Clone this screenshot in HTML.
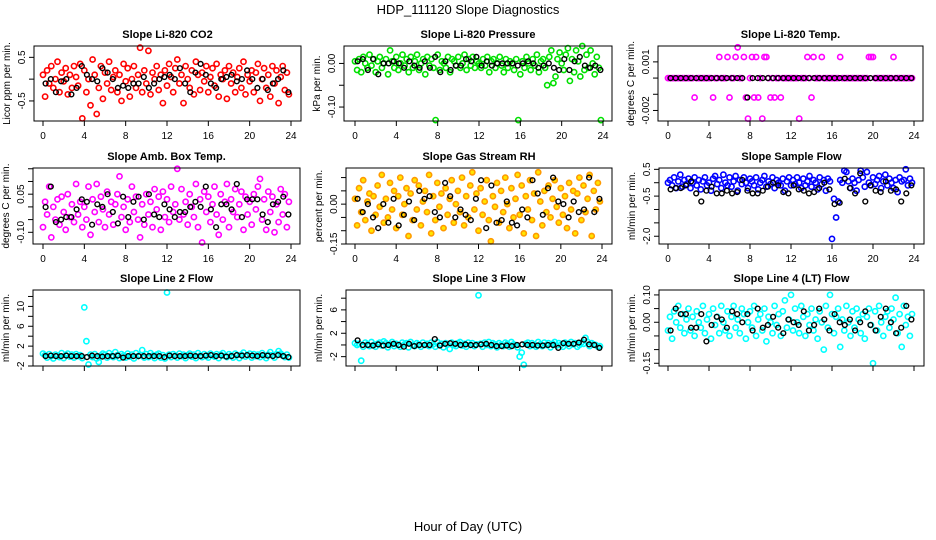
<!DOCTYPE html>
<html><head><meta charset="utf-8">
<style>
html,body{margin:0;padding:0;background:#fff;}
svg{display:block;font-family:"Liberation Sans",Arial,sans-serif;}
</style></head>
<body>
<svg id="chart" width="936" height="540" viewBox="0 0 936 540" xmlns="http://www.w3.org/2000/svg">
<rect width="936" height="540" fill="#fff"/>
<text x="468" y="14" font-size="13" text-anchor="middle">HDP_111120  Slope Diagnostics</text>
<text x="468" y="531" font-size="13" text-anchor="middle">Hour of Day (UTC)</text>
</svg>
<script>
const xTicks = [0,4,8,12,16,20,24];
const colorHours = Array.from({length:120},(_,i)=>i*0.2);
const blackHours = Array.from({length:48},(_,i)=>0.25+i*0.5);

const co2Color = [0.1,-0.4,0.2,-0.1,0.3,-0.2,0.0,0.4,-0.3,0.15,-0.05,0.25,-0.35,0.1,-0.2,0.3,0.05,-0.15,0.35,-0.9,0.2,-0.3,0.0,-0.6,0.45,0.1,-0.8,-0.2,0.3,-0.45,0.15,-0.1,0.4,-0.25,0.05,0.2,-0.3,0.1,-0.5,0.35,-0.05,0.25,-0.4,0.0,0.3,-0.2,0.1,0.72,-0.3,0.2,-0.1,0.65,-0.35,0.15,0.0,0.3,-0.25,0.1,-0.55,0.2,-0.15,0.35,0.05,-0.3,0.25,0.45,-0.1,0.1,-0.55,0.3,0.0,-0.2,0.2,-0.35,0.4,0.1,-0.25,0.15,-0.05,0.3,-0.3,0.05,0.25,-0.15,0.35,-0.4,0.1,0.0,0.2,-0.45,0.3,-0.1,0.15,-0.3,0.05,0.25,-0.2,0.4,-0.35,0.1,-0.05,0.2,-0.3,0.15,0.35,-0.5,0.0,0.25,-0.2,0.1,-0.4,0.3,-0.1,0.2,-0.55,0.05,0.3,-0.25,0.15,-0.35];
const co2Black = [-0.1,0.0,-0.3,-0.05,0.0,-0.35,-0.2,0.3,0.1,0.0,-0.05,0.25,0.15,0.0,-0.2,-0.15,-0.2,-0.1,-0.1,0.05,-0.2,-0.1,0.0,0.05,0.1,0.0,0.25,-0.1,-0.3,0.15,0.35,0.1,-0.1,-0.2,0.0,0.05,0.1,-0.05,0.0,0.2,0.0,-0.2,0.0,-0.25,-0.1,0.0,0.2,-0.3];

const presColor = [0.005,-0.015,0.01,-0.02,0.015,0.0,-0.01,0.02,-0.005,0.01,-0.02,0.005,0.015,-0.01,0.0,0.01,-0.025,0.03,0.005,-0.01,0.015,-0.015,0.0,0.02,-0.005,0.01,-0.02,0.015,-0.01,0.005,0.02,-0.015,0.0,0.01,-0.025,0.015,-0.005,0.01,-0.01,-0.13,0.02,-0.015,0.005,0.0,-0.01,0.015,-0.02,0.01,0.005,-0.005,0.015,-0.01,0.0,0.02,-0.015,0.01,-0.005,0.015,-0.01,0.005,0.0,-0.01,0.01,-0.005,0.015,-0.02,0.005,0.01,-0.01,0.0,0.015,-0.005,-0.02,0.01,-0.01,0.005,0.0,-0.015,0.01,-0.13,-0.025,0.005,-0.01,0.015,0.0,-0.015,0.01,-0.005,0.02,-0.02,0.005,0.01,-0.01,-0.05,0.015,0.03,-0.045,-0.03,0.01,0.025,0.0,-0.015,0.02,0.035,-0.04,0.01,-0.02,0.03,0.005,-0.03,0.04,-0.015,0.02,-0.01,0.03,0.0,-0.025,0.015,-0.01,-0.13];
const presBlack = [0.005,0.01,-0.015,0.01,-0.025,0.0,0.0,0.005,0.0,-0.01,0.005,-0.005,-0.01,0.005,-0.01,0.015,-0.02,0.005,-0.015,-0.005,-0.005,0.01,0.005,0.015,-0.005,0.005,-0.005,0.0,0.0,0.0,0.0,-0.005,0.0,0.005,0.0,-0.01,-0.005,0.0,-0.01,-0.015,0.01,-0.015,0.005,0.015,-0.005,-0.01,-0.005,-0.015];

const tempColor = [0,0,0,0,0,0,0,0,0,0, 0,0,0,-0.0012,0,0,0,0,0,0, 0,0,-0.0012,0,0,0.0013,0,0,0,0.0013, -0.0012,0,0,0.0013,0.0019,0,0,0.0013,-0.0012,-0.0025, 0,0.0013,-0.0012,0.0013,-0.0012,0,-0.0025,0.0013,0.0013,0, -0.0012,0,-0.0012,0,0,-0.0012,0,0,0,0, 0,0,0,0,-0.0025,0,0,0,0.0013,0, -0.0012,0.0013,0,0,0,0.0013,0,0,0,0, 0,0,0,0,0.0013,0,0,0,0,0, 0,0,0,0,0,0,0,0,0.0013,0.0013, 0.0013,0,0,0,0,0,0,0,0,0, 0.0013,0,0,0,0,0,0,0,0,0];
const tempBlack = [0,0,0,0,0,0,0,0,0,0,0,0,0,0,0,-0.0012,0,0,0,0,0,0,0,0,0,0,0,0,0,0,0,0,0,0,0,0,0,0,0,0,0,0,0,0,0,0,0,0];

const ambColor = [-0.08,0.02,-0.03,0.08,-0.12,0.0,-0.05,0.03,-0.07,0.04,-0.02,-0.09,0.05,-0.04,0.01,-0.06,0.09,-0.03,0.02,-0.08,0.0,-0.05,0.08,-0.11,0.03,-0.02,0.09,-0.06,0.04,-0.01,-0.08,0.06,-0.03,0.02,-0.07,0.01,0.05,0.12,-0.04,0.0,-0.09,0.03,-0.06,0.08,-0.02,0.04,-0.05,-0.12,0.01,-0.07,0.05,-0.03,0.02,-0.08,0.07,-0.01,0.04,-0.09,0.06,-0.04,0.03,-0.06,0.08,-0.02,0.01,0.15,-0.05,0.07,-0.03,0.02,-0.07,0.05,0.0,-0.04,0.09,-0.08,0.03,-0.14,0.06,-0.02,0.04,-0.06,0.01,0.08,-0.03,-0.11,0.05,-0.05,0.02,0.09,-0.08,0.03,-0.02,0.07,-0.04,0.01,0.06,-0.09,0.04,-0.03,0.02,-0.07,0.05,-0.01,0.08,0.11,-0.05,0.03,-0.09,0.06,-0.02,0.04,-0.1,0.01,-0.06,0.07,-0.03,0.05,-0.08,0.02];
const ambBlack = [-0.001,0.08,-0.06,-0.05,-0.04,-0.04,-0.01,0.03,0.02,-0.07,0.01,0.0,0.05,-0.02,-0.065,0.04,-0.04,0.02,0.04,-0.05,0.05,-0.03,-0.04,0.01,-0.01,-0.04,-0.02,-0.02,0.0,0.02,0.0,0.08,-0.01,-0.08,0.01,0.01,-0.01,0.09,-0.04,0.03,0.03,0.03,-0.03,-0.06,0.01,0.02,0.04,-0.03];

const rhColor = [0.02,-0.08,0.06,-0.03,0.09,-0.06,0.01,0.04,-0.1,0.03,-0.04,0.07,-0.01,0.11,-0.07,0.02,-0.05,0.08,-0.02,0.05,-0.09,0.03,0.1,-0.04,0.0,0.06,-0.12,0.04,-0.06,0.09,-0.02,0.07,-0.08,0.01,0.05,-0.03,0.11,-0.11,0.03,-0.06,0.08,-0.01,0.04,-0.09,0.06,-0.04,0.02,0.09,-0.07,0.0,0.05,-0.03,0.1,-0.08,0.03,-0.05,0.07,0.12,-0.02,0.04,-0.1,0.06,-0.04,0.01,0.09,-0.06,-0.14,0.03,-0.01,0.08,-0.07,0.05,-0.03,0.1,0.0,-0.09,0.06,-0.05,0.02,0.11,-0.04,0.07,-0.11,0.03,-0.02,0.09,-0.06,0.04,-0.12,0.12,0.01,-0.08,0.05,-0.03,0.07,-0.05,0.02,0.09,-0.01,-0.07,0.06,-0.04,0.03,-0.09,0.08,-0.02,0.05,-0.11,0.04,0.1,-0.06,0.07,-0.03,0.02,0.11,-0.12,0.05,-0.02,0.08,0.01];
const rhBlack = [0.02,-0.03,0.0,-0.05,-0.09,0.0,-0.07,0.02,-0.08,-0.04,0.01,-0.06,0.05,0.02,0.03,-0.03,-0.05,0.08,0.03,-0.05,-0.02,-0.04,-0.06,0.02,0.09,-0.09,0.07,-0.07,-0.06,0.01,-0.07,-0.08,-0.02,-0.05,0.09,0.04,-0.04,0.06,0.1,0.01,0.0,-0.05,0.01,-0.03,-0.02,0.1,-0.03,0.02];

const flowColor = [0.0,0.1,-0.1,0.2,-0.2,0.05,0.3,-0.15,0.1,-0.05,0.15,-0.2,0.0,0.2,-0.1,0.1,-0.25,0.05,0.2,-0.1,0.0,-0.3,0.15,0.25,-0.05,0.1,-0.2,0.3,0.0,-0.1,0.2,-0.15,0.05,0.25,-0.3,0.1,-0.05,0.2,0.0,-0.2,0.15,0.05,-0.1,0.2,-0.25,0.0,0.1,0.25,-0.15,0.05,-0.05,0.2,-0.2,0.1,0.0,-0.1,0.15,-0.3,0.05,0.2,-0.1,0.1,-0.05,0.2,0.0,-0.2,0.15,-0.1,0.05,0.25,-0.15,0.1,0.0,-0.25,0.2,-0.05,0.1,-0.3,0.15,0.05,-2.1,-0.6,-1.3,-0.7,0.1,0.0,0.45,0.4,0.05,-0.2,0.15,0.0,-0.3,0.1,0.45,0.2,-0.15,0.4,0.0,-0.1,0.2,-0.05,0.1,0.25,-0.2,0.05,0.3,-0.1,0.15,0.0,-0.2,0.1,-0.35,0.2,0.05,0.1,0.5,-0.1,0.15,0.0];
const flowBlack = [-0.25,-0.2,-0.2,-0.1,0.05,-0.4,-0.7,-0.3,-0.15,-0.4,-0.4,-0.3,-0.4,-0.35,0.1,-0.3,-0.4,-0.4,-0.3,-0.15,0.0,-0.1,-0.35,-0.4,-0.1,-0.25,-0.3,-0.4,-0.35,-0.2,0.0,-0.25,-0.8,-0.75,0.15,-0.2,-0.4,0.35,-0.7,-0.1,-0.3,-0.35,0.05,-0.3,-0.25,-0.7,-0.4,-0.1];

const line2Color = [0.5,0.2,-0.3,0.4,0.0,-0.5,0.3,0.1,-0.2,0.6,-0.4,0.2,0.5,-0.1,0.3,-0.3,0.4,0.0,0.2,-0.4,9.8,3.0,-1.7,0.3,-0.2,0.4,-0.5,-1.2,0.1,0.5,0.3,-0.3,0.6,0.0,-0.2,0.8,0.2,-0.4,0.4,0.1,-0.3,0.5,-0.1,0.3,-0.5,0.6,0.0,0.2,1.2,-0.3,0.4,-0.2,0.6,0.1,-0.4,0.3,0.5,-0.3,0.2,-0.5,12.8,0.3,-0.2,0.4,0.1,-0.3,0.5,0.0,0.3,-0.4,0.2,0.5,-0.1,0.3,-0.4,0.6,0.1,-0.2,0.4,0.0,-0.3,0.5,0.2,-0.1,0.4,-0.4,0.3,0.6,0.0,-0.2,0.4,0.1,-0.3,0.5,0.2,-0.4,0.3,0.7,-0.1,0.2,0.5,-0.3,0.4,0.0,0.3,-0.2,0.6,0.1,-0.4,0.3,0.8,0.2,-0.3,0.4,1.0,0.5,0.1,-0.2,0.3,-0.3];
const line2Black = [0,0.1,0,0,0.1,0,0,0,-0.2,0.1,0,-0.1,0,0,0.1,-0.3,0,0,0,0,0,0,0,-0.2,0.1,0,0,0,0.1,0,0,0.1,0.2,0,0.1,-0.1,0,0.2,0.1,0.2,0.1,0,0.2,0.1,0,0.2,0,-0.2];

const line3Color = [0.3,0.0,0.2,-2.7,-0.3,0.4,0.1,-0.2,0.5,0.0,-0.3,0.2,0.4,-0.1,0.6,0.3,-0.4,0.1,0.5,-0.2,0.2,0.0,-0.3,0.4,0.1,0.3,-0.4,0.5,0.0,-0.2,0.3,0.1,-0.3,0.4,0.0,0.2,-0.2,0.4,0.1,-0.3,0.5,0.0,0.2,-0.4,0.3,0.1,-0.7,0.4,0.0,-0.2,0.3,0.5,-0.1,0.2,-0.3,0.4,0.0,0.3,-0.2,0.1,8.5,0.2,-0.3,0.4,0.0,0.5,-0.2,0.3,0.1,-0.4,0.3,0.0,-0.2,0.4,0.2,-0.3,0.5,0.1,0.0,-0.4,-2.0,-1.3,-3.4,0.2,0.4,-0.2,0.3,0.0,-0.3,0.5,0.1,-0.2,0.4,0.0,0.3,-0.4,0.2,0.5,-0.1,0.3,0.0,-0.3,0.4,0.2,-0.2,0.5,0.1,0.3,-0.3,0.0,0.4,0.2,1.2,0.5,-0.2,0.3,0.1,0.0,-0.3,-0.2];
const line3Black = [0.8,0.0,0.0,-0.1,0.1,-0.1,0.0,0.2,0.0,-0.3,0.2,-0.2,0.0,0.0,0.0,1.0,-0.1,0.2,0.3,0.2,0.0,0.1,0.0,0.0,0.1,0.2,0.0,-0.2,-0.2,-0.1,-0.2,0.0,0.1,0.0,0.0,-0.1,-0.1,0.0,0.0,-0.5,0.3,0.2,0.2,0.4,0.9,0.1,0.0,-0.5];

const line4Color = [-0.03,0.02,-0.06,0.04,0.0,0.06,-0.02,0.03,-0.04,0.01,0.05,-0.03,0.02,-0.05,0.04,0.0,-0.02,0.06,-0.04,0.01,0.03,-0.06,0.05,-0.01,0.02,-0.04,0.06,0.0,-0.03,0.04,-0.05,0.02,0.06,-0.02,0.01,-0.04,0.05,0.03,-0.06,0.0,0.04,-0.02,0.06,-0.05,0.01,0.03,-0.03,0.05,-0.07,0.02,0.0,-0.04,0.06,-0.01,0.03,-0.05,0.04,0.08,-0.02,0.01,0.1,-0.03,0.05,0.0,-0.04,0.06,0.02,-0.05,0.03,-0.01,0.05,-0.03,0.01,-0.06,0.04,0.0,-0.1,0.06,-0.02,0.1,0.03,-0.04,0.02,0.05,-0.09,0.01,-0.03,0.06,0.0,-0.05,0.04,-0.02,0.05,0.01,-0.04,0.03,-0.06,0.02,0.05,-0.01,-0.15,0.04,-0.03,0.06,0.0,-0.05,0.02,0.04,-0.02,0.05,0.01,0.09,-0.04,0.03,-0.09,0.06,-0.01,0.02,-0.05,0.03];
const line4Black = [-0.03,0.05,0.03,0.03,-0.02,-0.02,0.03,-0.07,-0.01,0.02,0.01,-0.02,0.04,0.03,0.0,0.03,-0.03,0.05,-0.02,-0.01,0.02,-0.02,-0.04,0.01,0.0,-0.01,0.04,-0.03,-0.01,0.05,0.01,-0.03,0.03,0.0,-0.01,0.01,-0.03,0.0,0.04,-0.01,-0.03,0.02,0.05,0.0,-0.04,-0.02,0.06,0.01];

const yTicks1=[-0.5,0,0.5], yLab1=["-0.5","","0.5"];
const yTicks2=[-0.1,-0.05,0], yLab2=["-0.10","","0.00"];
const yTicks3=[-0.002,-0.001,0,0.001], yLab3=["-0.002","","","0.001"];
const yTicks4=[-0.1,-0.05,0,0.05,0.1,0.15], yLab4=["-0.10","","","0.05","",""];
const yTicks5=[-0.15,-0.1,-0.05,0,0.05,0.1], yLab5=["-0.15","","","0.00","",""];
const yTicks6=[-2,-1.5,-1,-0.5,0,0.5], yLab6=["-2.0","","","-0.5","","0.5"];
const yTicks7=[-2,0,2,4,6,8,10,12], yLab7=["-2","","2","","6","","10",""];
const yTicks8=[-2,0,2,4,6,8], yLab8=["-2","","2","","6",""];
const yTicks9=[-0.15,-0.1,-0.05,0,0.05,0.1], yLab9=["-0.15","","","0.00","","0.10"];

const panels = [
 {name:"co2",title:"Slope Li-820 CO2",ylab:"Licor ppm per min.",L:34,R:301,T:46,B:121,x0:43,x24:291,ymin:-0.96,ymax:0.76,c:colorHours,cv:co2Color,bv:co2Black,col:"#ff0000",fill:"none",yt:yTicks1,yl:yLab1,xl:true},
 {name:"pressure",title:"Slope Li-820 Pressure",ylab:"kPa per min.",L:344,R:612,T:46,B:121,x0:355,x24:603,ymin:-0.132,ymax:0.04,c:colorHours,cv:presColor,bv:presBlack,col:"#00e000",fill:"none",yt:yTicks2,yl:yLab2,xl:true},
 {name:"li820-temp",title:"Slope Li-820 Temp.",ylab:"degrees C per min.",L:658,R:923,T:46,B:121,x0:668,x24:914,ymin:-0.00265,ymax:0.00198,c:colorHours,cv:tempColor,bv:tempBlack,col:"#ff00ff",fill:"none",yt:yTicks3,yl:yLab3,xl:true},
 {name:"amb-box-temp",title:"Slope Amb. Box Temp.",ylab:"degrees C per min.",L:33,R:300,T:168,B:244,x0:43,x24:291,ymin:-0.146,ymax:0.153,c:colorHours,cv:ambColor,bv:ambBlack,col:"#ff00ff",fill:"none",yt:yTicks4,yl:yLab4,xl:true},
 {name:"gas-stream-rh",title:"Slope Gas Stream RH",ylab:"percent per min.",L:346,R:612,T:168,B:244,x0:355,x24:602,ymin:-0.15,ymax:0.136,c:colorHours,cv:rhColor,bv:rhBlack,col:"#ff9a00",fill:"#ffe600",yt:yTicks5,yl:yLab5,xl:true},
 {name:"sample-flow",title:"Slope Sample Flow",ylab:"ml/min per min.",L:659,R:924,T:168,B:244,x0:668,x24:914,ymin:-2.29,ymax:0.55,c:colorHours,cv:flowColor,bv:flowBlack,col:"#0000ff",fill:"none",yt:yTicks6,yl:yLab6,xl:true},
 {name:"line2-flow",title:"Slope Line 2 Flow",ylab:"ml/min per min.",L:33,R:300,T:290,B:366,x0:43,x24:291,ymin:-2,ymax:13.3,c:colorHours,cv:line2Color,bv:line2Black,col:"#00ffff",fill:"none",yt:yTicks7,yl:yLab7,xl:false},
 {name:"line3-flow",title:"Slope Line 3 Flow",ylab:"ml/min per min.",L:346,R:612,T:290,B:366,x0:355,x24:602,ymin:-3.6,ymax:9.4,c:colorHours,cv:line3Color,bv:line3Black,col:"#00ffff",fill:"none",yt:yTicks8,yl:yLab8,xl:false},
 {name:"line4-flow",title:"Slope Line 4 (LT) Flow",ylab:"ml/min per min.",L:659,R:924,T:290,B:366,x0:668,x24:914,ymin:-0.16,ymax:0.118,c:colorHours,cv:line4Color,bv:line4Black,col:"#00ffff",fill:"none",yt:yTicks9,yl:yLab9,xl:false}
];

const svg = document.getElementById('chart');
const NS = "http://www.w3.org/2000/svg";
function mk(tag, attrs, parent){
  const e = document.createElementNS(NS, tag);
  for (const k in attrs) e.setAttribute(k, attrs[k]);
  (parent||svg).appendChild(e);
  return e;
}
panels.forEach(p=>{
  const g = mk('g',{});
  
  
  const xs = h => p.x0 + (p.x24 - p.x0) * h / 24;
  const ys = v => p.B - (v - p.ymin) / (p.ymax - p.ymin) * (p.B - p.T);
  const t = mk('text',{x:(p.L+p.R)/2,y:p.T-8,'font-size':11,'font-weight':'bold','text-anchor':'middle'},g);
  t.textContent = p.title;
  
  
  const yl = mk('text',{x:0,y:0,'font-size':10,'text-anchor':'middle',transform:`translate(${p.L-24},${(p.T+p.B)/2}) rotate(-90)`},g);
  yl.textContent = p.ylab;
  
  
  const pg = mk('g',{fill:p.fill,'stroke-width':1.6},g);
  
  
  p.cv.forEach((v,i)=>{
    const c = mk('circle',{cx:xs(p.c[i]).toFixed(1),cy:ys(v).toFixed(1),r:2.6,stroke:p.col},pg);
    
    
  });
  const bg = mk('g',{fill:'none','stroke-width':1.4,stroke:'#000'},g);
  
  
  p.bv.forEach((v,i)=>{
    const c = mk('circle',{cx:xs(blackHours[i]).toFixed(1),cy:ys(v).toFixed(1),r:2.4},bg);
    
    
  });
  const box = mk('rect',{x:p.L,y:p.T,width:p.R-p.L,height:p.B-p.T,fill:'none',stroke:'#000','stroke-width':1},g);
  
  
  xTicks.forEach(h=>{
    const x = xs(h);
    mk('line',{x1:x,x2:x,y1:p.B,y2:p.B+5,stroke:'#000'},g);
    if (p.xl){
      const tl = mk('text',{x:x,y:p.B+18,'font-size':10,'text-anchor':'middle'},g);
      tl.textContent = h;
      
      
    }
  });
  p.yt.forEach((v,i)=>{
    const y = ys(v);
    mk('line',{x1:p.L-5,x2:p.L,y1:y,y2:y,stroke:'#000'},g);
    if (p.yl[i]){
      const tl = mk('text',{x:0,y:0,'font-size':10,'text-anchor':'middle',transform:`translate(${p.L-9},${y}) rotate(-90)`},g);
      tl.textContent = p.yl[i];
      
      
    }
  });
});
</script>
</body></html>
